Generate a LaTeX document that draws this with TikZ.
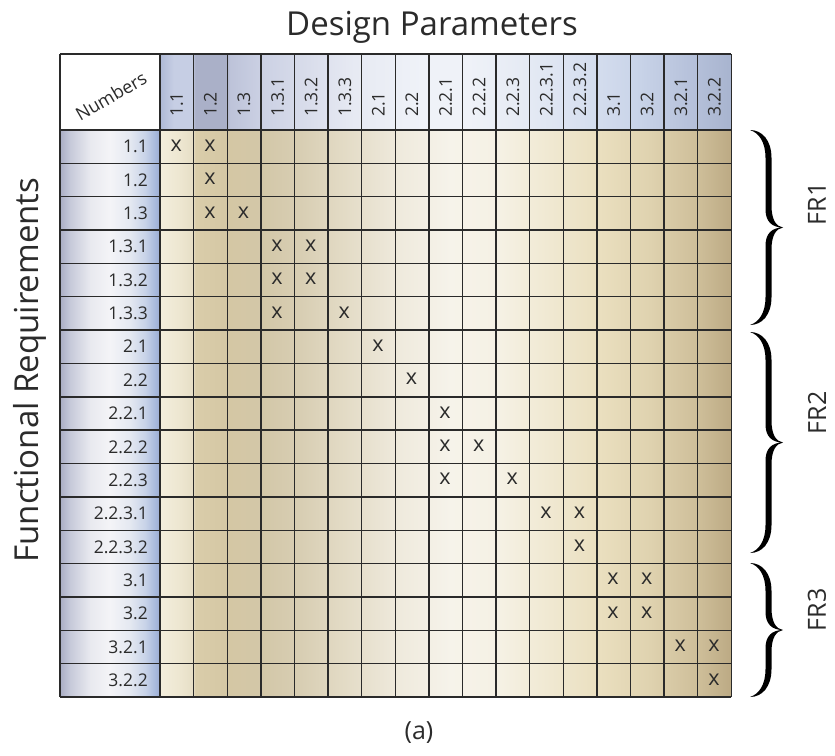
\documentclass[tikz,border=0pt]{standalone}
\usepackage{fontspec}
\setmainfont{Open Sans}
\definecolor{txt}{HTML}{2B2B2B}
\definecolor{gridc}{HTML}{2A2A2A}
% body colours
\definecolor{b01}{HTML}{F3EEDD}
\definecolor{b02}{HTML}{EDE6D0}
\definecolor{b03}{HTML}{E6DEC6}
\definecolor{b04}{HTML}{DACDAA}
\definecolor{b05}{HTML}{D4C7A4}
\definecolor{b06}{HTML}{D3C7A8}
\definecolor{b07}{HTML}{D8CEB3}
\definecolor{b08}{HTML}{E2DAC4}
\definecolor{b09}{HTML}{EFEADD}
\definecolor{b10}{HTML}{F6F3EA}
\definecolor{b11}{HTML}{F5F1E4}
\definecolor{b12}{HTML}{F1EAD5}
\definecolor{b13}{HTML}{EADFBF}
\definecolor{b14}{HTML}{DFD2AF}
\definecolor{b15}{HTML}{CDBD98}
\definecolor{b16}{HTML}{BCAA84}
% header colours
\definecolor{h01}{HTML}{AEB9D6}
\definecolor{h02}{HTML}{C6CEE4}
\definecolor{h03}{HTML}{AAB0C8}
\definecolor{h04}{HTML}{BDC3D9}
\definecolor{h05}{HTML}{CCD1E4}
\definecolor{h06}{HTML}{D9DDEB}
\definecolor{h07}{HTML}{E7EAF3}
\definecolor{h08}{HTML}{EFF2F8}
\definecolor{h09}{HTML}{E5EAF4}
\definecolor{h10}{HTML}{D8E0F0}
\definecolor{h11}{HTML}{C8D3E8}
\definecolor{h12}{HTML}{B8C3DC}
\definecolor{h13}{HTML}{A8B4CF}
% row label colours
\definecolor{l01}{HTML}{A9ADC4}
\definecolor{l02}{HTML}{C6C9D9}
\definecolor{l03}{HTML}{E8E9EF}
\definecolor{l04}{HTML}{F4F4F7}
\definecolor{l05}{HTML}{E4E8F1}
\definecolor{l06}{HTML}{C8D3E8}
\definecolor{l07}{HTML}{A9BADD}
\definecolor{l08}{HTML}{9BADD4}
% x: bp = 25 + 50*(x-160)/571
\pgfdeclarehorizontalshading{bodyshade}{100bp}{%
 color(0bp)=(b01); color(25bp)=(b01); color(26.8bp)=(b02); color(27.9bp)=(b03);
 color(28.1bp)=(b04); color(31bp)=(b05); color(33.9bp)=(b06); color(37.3bp)=(b07);
 color(40.8bp)=(b08); color(46bp)=(b09); color(50.4bp)=(b10); color(54.8bp)=(b11);
 color(58.3bp)=(b12); color(63.5bp)=(b13); color(67.9bp)=(b14); color(72.3bp)=(b15);
 color(75bp)=(b16); color(100bp)=(b16)}
\pgfdeclarehorizontalshading{headshade}{100bp}{%
 color(0bp)=(h01); color(25bp)=(h01); color(26.2bp)=(h02); color(27.8bp)=(h02);
 color(28.1bp)=(h03); color(30.8bp)=(h03); color(31.1bp)=(h04); color(34bp)=(h05);
 color(38bp)=(h06); color(42bp)=(h07); color(48bp)=(h08); color(52bp)=(h08);
 color(57bp)=(h09); color(62bp)=(h10); color(67bp)=(h11); color(71bp)=(h12);
 color(75bp)=(h13); color(100bp)=(h13)}
% x: bp = 25 + 50*(x-60)/100
\pgfdeclarehorizontalshading{labelshade}{100bp}{%
 color(0bp)=(l01); color(25bp)=(l01); color(30bp)=(l02); color(40bp)=(l03);
 color(50bp)=(l04); color(60bp)=(l05); color(67.5bp)=(l06); color(72.5bp)=(l07);
 color(75bp)=(l08); color(100bp)=(l08)}
\newcommand\fatbrace[2]{%
 \pgfmathsetmacro\ya{#1}\pgfmathsetmacro\yb{#2}\pgfmathsetmacro\ym{(#1+#2)/2}%
 \fill[black] (750,\ya) .. controls (762,\ya) and (771.5,\ya+10) .. (771.5,\ya+28)
   -- (771.5,\ym-22) .. controls (771.5,\ym-8) and (776,\ym-1) .. (783,\ym)
   .. controls (776,\ym+1) and (771.5,\ym+8) .. (771.5,\ym+22)
   -- (771.5,\yb-28) .. controls (771.5,\yb-10) and (762,\yb) .. (750,\yb)
   .. controls (759,\yb-3) and (765.5,\yb-12) .. (765.5,\yb-28)
   -- (765.5,\ym+18) .. controls (765.5,\ym+6) and (772,\ym) .. (783,\ym)
   .. controls (772,\ym) and (765.5,\ym-6) .. (765.5,\ym-18)
   -- (765.5,\ya+28) .. controls (765.5,\ya+12) and (759,\ya+3) .. (750,\ya) -- cycle;
}
\tikzset{
 gridline/.style={draw=gridc, line width=1.4pt},
 rowlabel/.style={anchor=east, inner sep=0pt, text=txt, font=\fontsize{17.5}{20}\selectfont},
 collabel/.style={anchor=west, rotate=90, inner sep=0pt, text=txt, font=\fontsize{17.5}{20}\selectfont},
 xmark/.style={inner sep=0pt, text=txt, font=\fontsize{21.5}{24}\selectfont},
 bigtitle/.style={text=txt, font=\fontsize{33}{38}\selectfont},
 frlabel/.style={text=txt, rotate=90, font=\fontsize{25}{30}\selectfont},
}
\begin{document}
\begin{tikzpicture}[x=1pt,y=-1pt]
\useasboundingbox (0,0) rectangle (835,755);
\fill[white] (0,0) rectangle (835,755);
% backgrounds
\shade[shading=bodyshade] (160,130) rectangle (731,697);
\shade[shading=headshade] (160,54) rectangle (731,130);
\shade[shading=labelshade] (60,130) rectangle (160,697);
% grid
\foreach \i in {0,...,17}
  \draw[gridline] ({160+\i*33.6},54) -- ({160+\i*33.6},697);
\foreach \j in {0,...,17}
  \draw[gridline] (60,{130+\j*33.35}) -- (731,{130+\j*33.35});
\draw[gridline] (60,54) -- (731,54);
\draw[gridline] (60,54) -- (60,697);
% labels
\node[text=txt, rotate=30, inner sep=0pt, font=\fontsize{18}{21}\selectfont] (num) at (111,96) {Numbers};
\foreach \t [count=\i] in {1.1,1.2,1.3,1.3.1,1.3.2,1.3.3,2.1,2.2,2.2.1,2.2.2,2.2.3,2.2.3.1,2.2.3.2,3.1,3.2,3.2.1,3.2.2}{
  \node[rowlabel] (r\i) at (148,{130+(\i-0.5)*33.35}) {\t};
  \node[collabel] (c\i) at ({160+(\i-0.5)*33.6},117) {\t};
}
\foreach \r/\c in {1/1,1/2,2/2,3/2,3/3,4/4,4/5,5/4,5/5,6/4,6/6,7/7,8/8,9/9,10/9,10/10,11/9,11/11,12/12,12/13,13/13,14/14,14/15,15/14,15/15,16/16,16/17,17/17}
  \node[xmark] (x\r-\c) at ({159.5+(\c-0.5)*33.6},{129+(\r-0.5)*33.35}) {x};
% titles
\node[bigtitle] (dp) at (432,27) {Design Parameters};
\node[bigtitle, rotate=90] (fr) at (30,370) {Functional Requirements};
% braces
\fatbrace{130}{325}
\fatbrace{332}{553}
\fatbrace{563}{697}
\node[frlabel] (fr1) at (817,204) {FR1};
\node[frlabel] (fr2) at (817,413) {FR2};
\node[frlabel] (fr3) at (817,610) {FR3};
\node[text=txt, font=\fontsize{25}{30}\selectfont] (cap) at (419,733) {(a)};
\end{tikzpicture}
\end{document}
